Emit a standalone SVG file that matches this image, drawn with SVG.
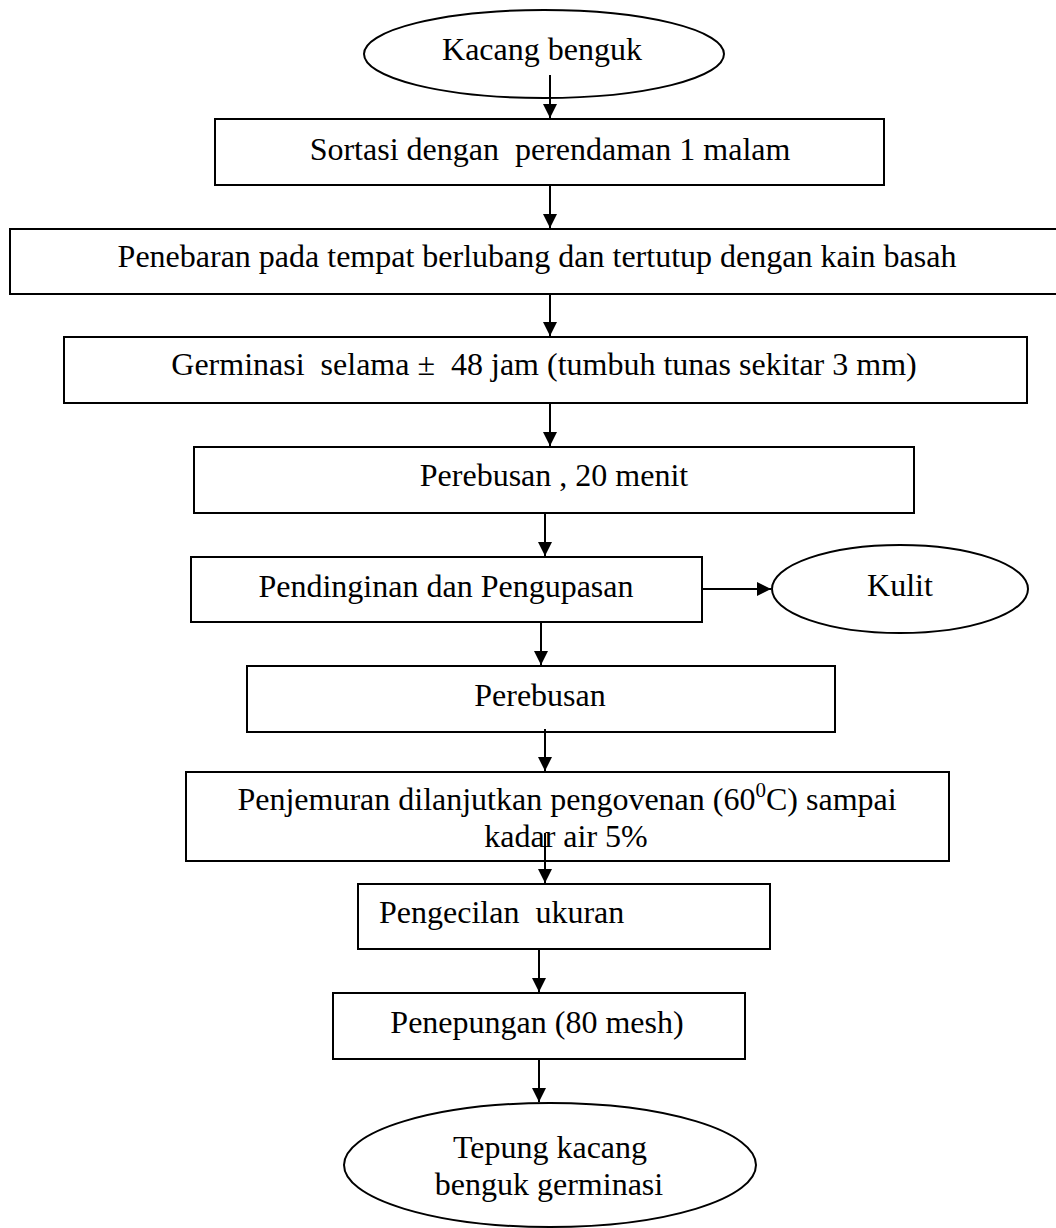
<svg xmlns="http://www.w3.org/2000/svg" width="1056" height="1228" viewBox="0 0 1056 1228">
<defs>
<marker id="ah" markerWidth="16" markerHeight="16" refX="14" refY="7" orient="auto" markerUnits="userSpaceOnUse">
<path d="M0,0 L14,7 L0,14 z" fill="#000"/>
</marker>
</defs>
<style>
.box{fill:#fff;stroke:#000;stroke-width:2}
.t{font-family:"Liberation Serif","Times New Roman",serif;font-size:32px;fill:#000}
.c{text-anchor:middle}
.ln{stroke:#000;stroke-width:2;fill:none}
</style>
<rect width="1056" height="1228" fill="#fff"/>
<g id="n1"><ellipse class="box" cx="544" cy="54" rx="180" ry="44"/><text class="t c" x="542" y="60">Kacang benguk</text></g>
<g id="n2"><rect class="box" x="215" y="119" width="669" height="66"/><text class="t c" x="550" y="160" xml:space="preserve">Sortasi dengan  perendaman 1 malam</text></g>
<g id="n3"><rect class="box" x="10" y="229" width="1060" height="65"/><text class="t c" x="537" y="267">Penebaran pada tempat berlubang dan tertutup dengan kain basah</text></g>
<g id="n4"><rect class="box" x="64" y="337" width="963" height="66"/><text class="t c" x="544" y="375" xml:space="preserve">Germinasi  selama ±  48 jam (tumbuh tunas sekitar 3 mm)</text></g>
<g id="n5"><rect class="box" x="194" y="447" width="720" height="66"/><text class="t c" x="554" y="486">Perebusan , 20 menit</text></g>
<g id="n6"><rect class="box" x="191" y="557" width="511" height="65"/><text class="t c" x="446" y="597">Pendinginan dan Pengupasan</text></g>
<g id="n7"><ellipse class="box" cx="900" cy="589" rx="128" ry="44"/><text class="t c" x="900" y="596">Kulit</text></g>
<g id="n8"><rect class="box" x="247" y="666" width="588" height="66"/><text class="t c" x="540" y="706">Perebusan</text></g>
<g id="n9"><rect class="box" x="186" y="772" width="763" height="89"/><text class="t c" x="567" y="810">Penjemuran dilanjutkan pengovenan (60<tspan font-size="21" dy="-13">0</tspan><tspan dy="13">C) sampai</tspan></text><text class="t c" x="566" y="847">kadar air 5%</text></g>
<g id="n10"><rect class="box" x="358" y="884" width="412" height="65"/><text class="t" x="379" y="923" xml:space="preserve">Pengecilan  ukuran</text></g>
<g id="n11"><rect class="box" x="333" y="993" width="412" height="66"/><text class="t c" x="537" y="1033">Penepungan (80 mesh)</text></g>
<g id="n12"><ellipse class="box" cx="550" cy="1165" rx="206" ry="62"/><text class="t c" x="550" y="1158">Tepung kacang</text><text class="t c" x="549" y="1195">benguk germinasi</text></g>
<g id="connectors">
<line class="ln" x1="550" y1="75" x2="550" y2="118" marker-end="url(#ah)"/>
<line class="ln" x1="550" y1="185" x2="550" y2="228" marker-end="url(#ah)"/>
<line class="ln" x1="550" y1="294" x2="550" y2="336" marker-end="url(#ah)"/>
<line class="ln" x1="550" y1="403" x2="550" y2="446" marker-end="url(#ah)"/>
<line class="ln" x1="545" y1="513" x2="545" y2="556" marker-end="url(#ah)"/>
<line class="ln" x1="702" y1="589" x2="771" y2="589" stroke-width="3" marker-end="url(#ah)"/>
<line class="ln" x1="541" y1="622" x2="541" y2="665" marker-end="url(#ah)"/>
<line class="ln" x1="545" y1="729" x2="545" y2="771" marker-end="url(#ah)"/>
<line class="ln" x1="545" y1="833" x2="545" y2="883" marker-end="url(#ah)"/>
<line class="ln" x1="539" y1="949" x2="539" y2="992" marker-end="url(#ah)"/>
<line class="ln" x1="539" y1="1059" x2="539" y2="1102" marker-end="url(#ah)"/>
</g>
</svg>
